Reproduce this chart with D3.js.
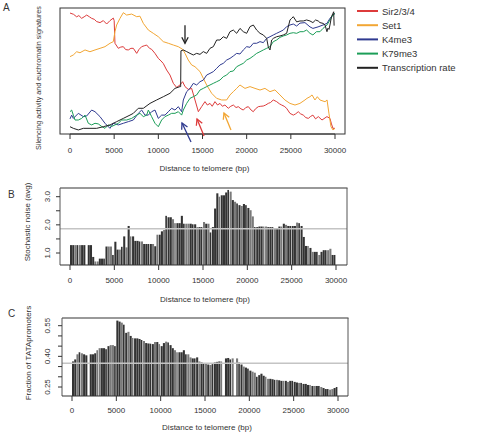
<!DOCTYPE html>
<html><head><meta charset="utf-8">
<script src="https://cdn.jsdelivr.net/npm/d3@7"></script>
<style>
body{margin:0;background:#fff}
svg{display:block}
text{font-family:"Liberation Sans",Arial,Helvetica,sans-serif;fill:#333}
</style>
</head><body>
<svg id="chart" width="480" height="437"></svg>
<script>
// ---------------- DATA ----------------
const xTicks = [0, 5000, 10000, 15000, 20000, 25000, 30000];
const seriesNames = ["Sir2/3/4", "Set1", "K4me3", "K79me3", "Transcription rate"];

// Panel A: [distance (bp), signal (relative, 0-100)]
const sir = [[0,96],[400,95],[755,93],[1000,94],[1320,91.8],[1600,93],[1890,94.4],[2200,93],[2450,91.8],[2750,91],[3020,89.2],[3400,88.4],[3770,90],[4150,87.3],[4530,90],[4900,92],[5000,90],[5090,72],[5470,68],[5750,69],[6040,69.3],[6300,67],[6600,66.7],[6900,68],[7170,68],[7550,64],[7800,67],[8110,69.3],[8400,70],[8680,70.6],[9000,68],[9240,67.2],[9620,64],[10000,60],[10300,58],[10560,56],[10940,50.8],[11320,46.8],[11700,40.2],[12070,37],[12450,38.9],[12750,41.5],[13020,37.6],[13390,35.4],[13770,36.2],[14150,27],[14530,17.7],[14900,21.7],[15280,25.7],[15550,23],[15850,24.3],[16100,22],[16410,25.7],[16700,23],[16980,24.3],[17250,22],[17540,23],[17920,20.4],[18200,22],[18490,23],[18800,21],[19050,21.7],[19350,20],[19620,19],[19900,21],[20190,21.7],[20500,19],[20750,17.7],[21000,20],[21320,21.7],[21600,22],[21880,22.2],[22150,23],[22450,24.3],[22700,25],[23010,27],[23390,25.7],[23700,24],[23960,23],[24250,22],[24520,20.4],[24900,16.4],[25280,15],[25550,16],[25840,17.7],[26100,16],[26410,15],[26700,13],[26980,12.4],[27250,14],[27500,15],[27800,12],[28110,13.8],[28530,11.1],[29090,13.8],[29430,12.4],[29600,8],[29770,4.5],[30000,4.5]];
const set1 = [[0,61.4],[370,62.7],[755,65.3],[1130,64.5],[1700,66.7],[2260,65.3],[2830,66.7],[3400,68],[3960,69.3],[4530,72],[4900,73.3],[5090,81.2],[5280,86.5],[5660,91.8],[6040,96.3],[6410,94.4],[6980,95.2],[7550,93.1],[7920,93.5],[8300,87.8],[8870,82.5],[9430,79.9],[10000,77.2],[10560,73.3],[11130,72],[11700,70.6],[12260,69.3],[12750,67.2],[13020,64],[13390,58.7],[13770,54.8],[14150,53.4],[14720,49.5],[15090,44.2],[15470,38.9],[16040,32.3],[16600,28.3],[17170,27],[17730,27],[18110,31],[18490,33.6],[18870,36.2],[19240,38.9],[19810,36.2],[20380,37.6],[20940,36.2],[21510,34.9],[22070,36.2],[22640,33.6],[23200,35],[23770,31],[24330,27],[24900,24.3],[25470,23],[26030,24.3],[26600,27],[26830,28.3],[27170,29.6],[27400,31],[27730,27],[28000,29.6],[28300,27],[28870,25.6],[29100,27],[29320,16],[29545,5.8],[29770,3.2],[30000,4.5]];
const k4me3 = [[0,12],[189,15],[377,12.4],[943,16.4],[1509,13.8],[1887,14.3],[2453,19],[2830,17.7],[3396,13.8],[3962,8.5],[4528,4.5],[4905,8.5],[5471,7.2],[6037,8.5],[6603,9.8],[7169,11.1],[7735,16.4],[8112,19],[8489,15],[8867,15],[9244,17.7],[9621,19],[9998,12.4],[10376,15],[10753,15],[11130,17.7],[11508,20.4],[11885,19],[12262,21.7],[12640,17.7],[12829,27],[13207,33.6],[13584,36.2],[13961,40.2],[14339,38.9],[14716,41.5],[15093,42.8],[15471,46.8],[15848,48.1],[16225,49.5],[16603,52.1],[16980,54.8],[17357,56.1],[17735,58.7],[18112,60],[18489,61.9],[18867,64],[19244,63.5],[19621,66.7],[19999,69.3],[20376,68.8],[20753,72],[21131,72],[21508,73.3],[21885,72.5],[22263,75.9],[22640,77.2],[23017,78.6],[23395,79.9],[23772,81.2],[24149,82.5],[24527,85.2],[24904,86.5],[25281,87.3],[25659,85.7],[26036,88],[26600,88.4],[27170,85],[27500,83.8],[28080,85],[28640,86.5],[29090,87.8],[29430,91.8],[29770,94.4],[30000,95.7]];
const k79me3 = [[0,17.7],[189,19],[377,15],[566,11.1],[943,11.1],[1320,12.4],[1700,15],[2075,8.5],[2450,7.2],[2830,8.5],[3200,8],[3585,6],[3962,4.5],[4340,7.2],[4720,6],[5090,7.2],[5470,8.5],[5850,11.1],[6410,11.1],[6980,12.4],[7550,15],[7920,16.4],[8300,13.8],[8680,15],[8870,19],[9240,13.8],[9620,8.5],[9998,5.8],[10376,11.1],[10753,13.8],[11130,15],[11508,16.4],[11885,16.4],[12262,17.7],[12640,15],[12829,19],[13207,24.3],[13584,28.3],[13961,29.6],[14339,31],[14716,34.9],[15093,36.2],[15471,37.6],[15848,38.9],[16225,40.2],[16603,41.5],[16980,42.8],[17357,45.5],[17735,46.8],[18112,49.5],[18489,50],[18867,53.4],[19244,54.8],[19621,56.1],[19999,58.7],[20376,60],[20753,61.9],[21131,64],[21508,65.3],[21885,66.7],[22263,68],[22640,69.3],[23017,73.3],[23395,74.6],[23772,76.7],[24149,77.8],[24527,78.6],[24904,79.9],[25281,80.4],[25659,79.9],[26036,81.2],[26413,81.2],[26791,82.5],[27168,79.9],[27500,78.6],[27900,81.2],[28300,81.2],[28640,83.8],[29090,86.5],[29430,90.5],[29770,94.4],[30000,95.7]];
const transcription = [[0,5.8],[377,4.5],[943,3.2],[1509,4.5],[2264,4.5],[3018,4.5],[3773,5.8],[4528,7.2],[5283,9.8],[6037,12.4],[6792,15],[7169,16.4],[7735,20.4],[8300,20.4],[9055,24.3],[9810,27],[10565,29.6],[11320,32.3],[11885,36.2],[12450,37.6],[12530,37.6],[12560,66],[12829,66.7],[13207,65.4],[13584,64],[13961,62.7],[14339,64],[14716,63.2],[15093,65.4],[15471,64],[15848,68],[16225,69.3],[16603,74.6],[16980,74.6],[17357,77.2],[17735,75.9],[18112,81.2],[18489,82.5],[18867,79.9],[19244,83.8],[19621,81.2],[19999,79.9],[20376,85.2],[20753,86.5],[21131,82.5],[21508,79.9],[21885,78.6],[22263,75.9],[22450,69],[22640,66.7],[22830,74.6],[23017,75.9],[23395,77.2],[23772,77.8],[24149,78.6],[24527,79.9],[24904,90.5],[25090,91.8],[25281,93.1],[25659,89],[26036,89.7],[26413,89.7],[26791,90.5],[27168,89.7],[27500,88.4],[27800,90.5],[28100,89.7],[28300,88.4],[28640,87.8],[28870,86.5],[29090,81.2],[29200,84],[29320,83],[29430,86.5],[29600,93.1],[29770,95.8],[29850,97],[29900,86]];
// arrows: [distance, signal] of arrow tips
const arrowTips = [[13018,72],[12680,8.7],[14380,11.9],[17430,16.7]];

// Panel B: stochastic noise, 250 bp bins from 0 to 30000 (null = no bar)
const binSize = 250;
const noiseValues = [1.28,1.28,1.28,1.28,1.28,1.28,1.28,null,1.28,1.28,
0.86,0.7,0.7,0.8,0.8,0.8,1.23,1.23,1.23,0.93,
1.4,1.12,1.12,1.22,1.59,1.2,1.96,1.59,1.59,1.43,
1.43,1.41,1.41,1.32,1.32,1.32,1.32,1.32,1.24,1.65,
1.65,1.77,1.82,2.32,2.27,2.27,2.2,2.06,2.06,2.06,
2.32,2.04,2.04,2.04,2.04,2.02,2.02,1.92,1.92,1.92,
2.1,2.04,2.04,1.73,1.92,2.58,3.12,3.0,3.05,3.05,
3.15,3.24,3.18,2.88,2.82,2.76,2.7,2.67,2.74,2.7,
2.6,2.52,2.3,1.92,1.92,1.94,1.94,1.94,1.94,1.92,
1.92,1.92,1.88,1.88,1.94,1.94,2.04,2.0,1.96,1.96,
1.96,1.96,2.08,2.06,1.96,1.57,1.25,1.25,1.18,1.04,
1.04,1.04,0.93,1.04,1.1,1.1,1.1,1.15,0.93,0.93];
const noiseMean = 1.86;
const noiseTicks = [1.0, 1.5, 2.0, 2.5, 3.0];
const noiseTickLabels = ["1.0", "", "2.0", "", "3.0"];

// Panel C: fraction of TATA promoters, 250 bp bins
const tataValues = [0.375,0.385,0.41,0.42,0.415,0.41,0.405,null,0.41,0.41,
0.415,0.43,0.44,0.44,0.44,0.435,0.45,0.455,0.455,0.45,
0.575,0.57,0.565,0.555,0.515,0.52,0.5,0.49,0.488,0.488,
0.485,0.48,0.475,0.465,0.463,0.462,0.46,0.47,0.47,0.46,
0.45,0.465,0.472,0.468,0.455,0.44,0.43,0.42,0.42,0.42,
0.43,0.41,0.41,0.395,0.39,0.39,0.395,0.375,0.37,0.367,
0.367,0.36,0.358,0.362,0.37,0.373,0.375,0.375,null,0.39,
0.392,0.385,0.39,null,0.39,0.37,0.36,0.35,0.345,0.34,
0.33,0.325,0.32,0.3,0.308,0.315,0.305,0.3,0.29,0.29,
0.288,0.285,0.285,0.283,0.28,0.28,0.28,0.275,0.28,0.28,
0.275,0.272,0.27,0.27,0.265,0.265,0.26,0.26,0.255,0.255,
0.255,0.255,0.25,0.245,0.24,0.24,0.237,0.24,0.245,0.25];
const tataMean = 0.366;
const tataTicks = [0.25, 0.30, 0.35, 0.40, 0.45, 0.50, 0.55];
const tataTickLabels = ["0.25", "", "", "0.40", "", "", "0.55"];

// ---------------- DRAW ----------------
const svg = d3.select("#chart");
const colors = ["#dd3b3b", "#f2a634", "#2f3a90", "#1c9e58", "#222222"];
const seriesData = [sir, set1, k4me3, k79me3, transcription];

function xAxisBottom(g, x, y0, labelY, titleY) {
  g.append("line").attr("x1", x(0)).attr("x2", x(30000)).attr("y1", y0).attr("y2", y0)
    .attr("stroke", "#333").attr("stroke-width", 1);
  g.selectAll(null).data(xTicks).enter().append("line")
    .attr("x1", d => x(d)).attr("x2", d => x(d)).attr("y1", y0).attr("y2", y0 + 5)
    .attr("stroke", "#333");
  g.selectAll(null).data(xTicks).enter().append("text")
    .attr("x", d => x(d)).attr("y", labelY).attr("text-anchor", "middle")
    .attr("font-size", 8).text(d => d);
  g.append("text").attr("x", (x(0) + x(30000)) / 2 + 2).attr("y", titleY)
    .attr("text-anchor", "middle").attr("font-size", 8).text("Distance to telomere (bp)");
}

// ---- Panel A ----
const xA = d3.scaleLinear().domain([0, 30000]).range([70, 335]);
const yA = d3.scaleLinear().domain([0, 100]).range([134, 8]);
const gA = svg.append("g");
gA.append("rect").attr("x", 60).attr("y", 8).attr("width", 285).attr("height", 126)
  .attr("fill", "none").attr("stroke", "#333").attr("stroke-width", 1);
const line = d3.line().x(d => xA(d[0])).y(d => yA(d[1]));
seriesData.forEach((s, i) => {
  gA.append("path").datum(s).attr("d", line).attr("fill", "none")
    .attr("stroke", colors[i]).attr("stroke-width", 1).attr("stroke-linejoin", "round");
});
xAxisBottom(gA, xA, 134, 153, 171);
gA.append("text").attr("transform", "translate(41,78) rotate(-90)")
  .attr("text-anchor", "middle").attr("font-size", 7.2)
  .text("Silencing activity and euchromatin signatures");
gA.append("text").attr("x", 3).attr("y", 11).attr("font-size", 10).text("A");

// arrows
function arrow(g, tx, ty, dx, dy, color) {
  const len = Math.hypot(dx, dy), ux = dx / len, uy = dy / len;
  const hl = 6, hw = 3.2;
  const bx = tx - ux * hl, by = ty - uy * hl;
  g.append("line").attr("x1", tx).attr("y1", ty).attr("x2", tx - dx).attr("y2", ty - dy)
    .attr("stroke", color).attr("stroke-width", 1.3);
  g.append("path").attr("d", `M${bx - uy * hw},${by + ux * hw}L${tx},${ty}L${bx + uy * hw},${by - ux * hw}`)
    .attr("fill", "none").attr("stroke", color).attr("stroke-width", 1.3);
}
const arrowVecs = [[0, 18], [-9, -19], [-7, -17], [-7, -17]];
const arrowColors = ["#222222", "#2f3a90", "#dd3b3b", "#f2a634"];
arrowTips.forEach((t, i) => arrow(gA, xA(t[0]), yA(t[1]), arrowVecs[i][0], arrowVecs[i][1], arrowColors[i]));

// legend
const leg = svg.append("g");
seriesNames.forEach((n, i) => {
  const y = 11 + i * 14.2;
  leg.append("line").attr("x1", 357).attr("x2", 378).attr("y1", y).attr("y2", y)
    .attr("stroke", colors[i]).attr("stroke-width", 2);
  leg.append("text").attr("x", 382).attr("y", y + 3.5).attr("font-size", 9.5).text(n);
});

// ---- bar panel helper ----
function barPanel(values, x, y, box, mean, ticks, tickLabels, yAxisX, labelX, title, titleX, titleY, letter, letterY, labelY, xTitleY) {
  const g = svg.append("g");
  const bw = x(binSize) - x(0);
  g.selectAll(null).data(values.map((v, i) => ({ v, i })).filter(d => d.v !== null))
    .enter().append("rect")
    .attr("x", d => x(d.i * binSize))
    .attr("width", d => Math.max(0.5, bw - ((d.i % 4 === 3) ? 0.6 : 0.15)))
    .attr("y", d => y(d.v))
    .attr("height", d => box.bottom - y(d.v))
    .attr("fill", d => (d.i % 5 === 2 || d.i % 7 === 4) ? "#7a7a7a" : "#333333");
  g.append("line").attr("x1", box.left).attr("x2", box.right).attr("y1", y(mean)).attr("y2", y(mean))
    .attr("stroke", "#c4c4c4").attr("stroke-width", 1.5);
  g.append("line").attr("x1", box.left).attr("x2", box.right + 0.5).attr("y1", box.top).attr("y2", box.top)
    .attr("stroke", "#999").attr("stroke-width", 2);
  g.append("line").attr("x1", box.right).attr("x2", box.right).attr("y1", box.top).attr("y2", box.bottom)
    .attr("stroke", "#555").attr("stroke-width", 1);
  g.append("line").attr("x1", box.left).attr("x2", box.left).attr("y1", box.top).attr("y2", box.bottom)
    .attr("stroke", "#555").attr("stroke-width", 1);
  g.append("line").attr("x1", box.left).attr("x2", box.right).attr("y1", box.bottom).attr("y2", box.bottom)
    .attr("stroke", "#333").attr("stroke-width", 1.2);
  g.selectAll(null).data(xTicks).enter().append("line")
    .attr("x1", d => x(d)).attr("x2", d => x(d)).attr("y1", box.bottom).attr("y2", box.bottom + 5)
    .attr("stroke", "#333");
  g.selectAll(null).data(xTicks).enter().append("text")
    .attr("x", d => x(d)).attr("y", labelY).attr("text-anchor", "middle")
    .attr("font-size", 8).text(d => d);
  g.append("text").attr("x", (x(0) + x(30000)) / 2 + 2).attr("y", xTitleY)
    .attr("text-anchor", "middle").attr("font-size", 8).text("Distance to telomere (bp)");
  g.selectAll(null).data(ticks).enter().append("line")
    .attr("x1", yAxisX - 4).attr("x2", yAxisX).attr("y1", d => y(d)).attr("y2", d => y(d))
    .attr("stroke", "#333");
  g.selectAll(null).data(ticks.map((t, i) => ({ t, l: tickLabels[i] })).filter(d => d.l))
    .enter().append("text")
    .attr("transform", d => `translate(${labelX},${y(d.t)}) rotate(-90)`)
    .attr("text-anchor", "middle").attr("font-size", 8).text(d => d.l);
  g.append("text").attr("transform", `translate(${titleX},${titleY}) rotate(-90)`)
    .attr("text-anchor", "middle").attr("font-size", 8).text(title);
  g.append("text").attr("x", 8).attr("y", letterY).attr("font-size", 10).text(letter);
}

const xB = d3.scaleLinear().domain([0, 30000]).range([70, 336]);
const yB = d3.scaleLinear().domain([1, 3]).range([253, 196.7]);
barPanel(noiseValues, xB, yB, { left: 60, right: 347, top: 188, bottom: 265 }, noiseMean,
  noiseTicks, noiseTickLabels, 60, 50, "Stochastic noise (avg)", 30, 222, "B", 198, 283, 302);

const xC = d3.scaleLinear().domain([0, 30000]).range([72, 338]);
const yC = d3.scaleLinear().domain([0.25, 0.55]).range([387, 325.7]);
barPanel(tataValues, xC, yC, { left: 62, right: 348, top: 318, bottom: 396 }, tataMean,
  tataTicks, tataTickLabels, 62, 50, "Fraction of TATApromoters", 31, 353, "C", 317, 413, 430);
</script>
</body></html>
